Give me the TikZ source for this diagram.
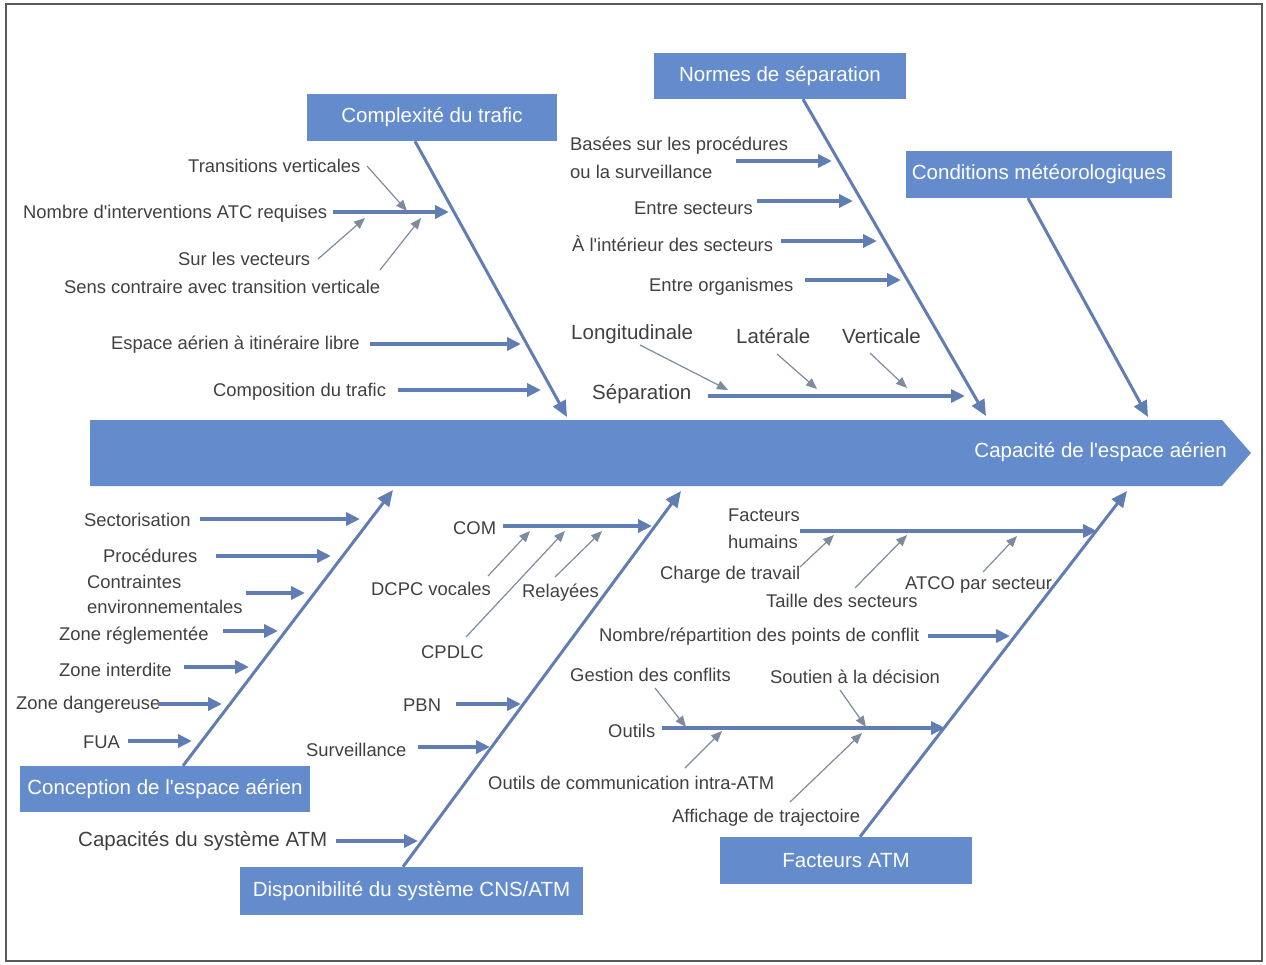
\documentclass[tikz,border=0pt]{standalone}
\usepackage{fontspec}
\setmainfont[Ligatures=TeXOff]{Liberation Sans}
\usetikzlibrary{arrows.meta}
\definecolor{boxblue}{RGB}{100,140,204}
\definecolor{bonecol}{RGB}{96,126,180}
\definecolor{thincol}{RGB}{125,138,160}
\definecolor{txt}{RGB}{64,64,64}
\definecolor{framecol}{RGB}{90,90,90}
\begin{document}
\begin{tikzpicture}[x=1pt,y=-1pt,
 box/.style={fill=boxblue, text=white, inner sep=0, font=\fontsize{20.5}{24}\selectfont},
 lbl/.style={text=txt, inner sep=0, anchor=west, align=left, yshift=-1.5pt, font=\fontsize{18.4}{21}\selectfont},
 biglbl/.style={lbl, font=\fontsize{20.5}{24}\selectfont},
 bone/.style={draw=bonecol, line width=3pt, -{Triangle[length=16pt,width=14pt]}},
 sub/.style={draw=bonecol, line width=3.5pt, -{Triangle[length=14pt,width=13pt]}},
 thinarr/.style={draw=thincol, line width=1.2pt, -{Triangle[length=11pt,width=9pt]}},
]
\useasboundingbox (0,0) rectangle (1266,964);
\draw[framecol, line width=2pt] (6,4) rectangle (1262,961);

% spine
\fill[boxblue] (90,420) -- (1222,420) -- (1251,453) -- (1222,486) -- (90,486) -- cycle;
\node[box, fill=none, anchor=east] (effect) at (1227,452) {Capacité de l'espace aérien};

% category boxes
\node[box, minimum width=250, minimum height=47] (cplx) at (432,117.5) {Complexité du trafic};
\node[box, minimum width=252, minimum height=46] (norm) at (780,76) {Normes de séparation};
\node[box, minimum width=266, minimum height=47] (cond) at (1039,174.5) {Conditions météorologiques};
\node[box, minimum width=290, minimum height=46] (concep) at (165,789) {Conception de l'espace aérien};
\node[box, minimum width=343, minimum height=48] (cns) at (411.5,891) {Disponibilité du système CNS/ATM};
\node[box, minimum width=252, minimum height=47] (fatm) at (846,860.5) {Facteurs ATM};

% bone end points
\coordinate (cplxE) at (567,417);
\coordinate (normE) at (986,416);
\coordinate (condE) at (1148,417);
\coordinate (concepE) at (393,490);
\coordinate (cnsE) at (681,491);
\coordinate (fatmE) at (1127,491);

\draw[bone] ([xshift=-17]cplx.south) -- (cplxE);
\draw[bone] ([xshift=23]norm.south) -- (normE);
\draw[bone] ([xshift=-11]cond.south) -- (condE);
\draw[bone] ([xshift=18]concep.north) -- (concepE);
\draw[bone] ([xshift=-8.5]cns.north) -- (cnsE);
\draw[bone] ([xshift=14]fatm.north) -- (fatmE);

% ---------- Complexité du trafic ----------
\node[lbl] (tv) at (188,164) {Transitions verticales};
\node[lbl] (nia) at (23,212) {Nombre d'interventions ATC requises};
\node[lbl] (slv) at (178,257) {Sur les vecteurs};
\node[lbl] (scv) at (64,285) {Sens contraire avec transition verticale};
\node[lbl] (eail) at (111,343) {Espace aérien à itinéraire libre};
\node[lbl] (cdt) at (213,390) {Composition du trafic};

\coordinate (niaS) at (333,212); \coordinate (niaE) at (449,212);
\coordinate (eailS) at (370,344); \coordinate (eailE) at (521,344);
\coordinate (cdtS) at (398,390); \coordinate (cdtE) at (541,390);
\draw[sub] (niaS) -- (niaE);
\draw[sub] (eailS) -- (eailE);
\draw[sub] (cdtS) -- (cdtE);
\coordinate (tvS) at (367,166); \coordinate (tvE) at (407,211);
\coordinate (slvS) at (318,259); \coordinate (slvE) at (365,218);
\coordinate (scvS) at (380,270); \coordinate (scvE) at (421,218);
\draw[thinarr] (tvS) -- (tvE);
\draw[thinarr] (slvS) -- (slvE);
\draw[thinarr] (scvS) -- (scvE);

% ---------- Normes de séparation ----------
\node[lbl, font=\fontsize{18.4}{28}\selectfont] (bsp) at (570,156) {Basées sur les procédures\\ou la surveillance};
\node[lbl] (es) at (634,207) {Entre secteurs};
\node[lbl] (ids) at (572,242) {À l'intérieur des secteurs};
\node[lbl] (eo) at (649,285) {Entre organismes};
\node[biglbl] (lon) at (571,333) {Longitudinale};
\node[biglbl] (lat) at (736,335) {Latérale};
\node[biglbl] (ver) at (842,335) {Verticale};
\node[biglbl] (sep) at (592,393) {Séparation};

\coordinate (bspS) at (736,161); \coordinate (bspE) at (832,161);
\coordinate (esS) at (757,201); \coordinate (esE) at (853,201);
\coordinate (idsS) at (781,241); \coordinate (idsE) at (877,241);
\coordinate (eoS) at (805,280); \coordinate (eoE) at (901,280);
\coordinate (sepS) at (708,396); \coordinate (sepE) at (965,396);
\draw[sub] (bspS) -- (bspE);
\draw[sub] (esS) -- (esE);
\draw[sub] (idsS) -- (idsE);
\draw[sub] (eoS) -- (eoE);
\draw[sub] (sepS) -- (sepE);
\coordinate (lonS) at (640,345); \coordinate (lonE) at (728,390);
\coordinate (latS) at (777,354); \coordinate (latE) at (817,389);
\coordinate (verS) at (870,353); \coordinate (verE) at (907,388);
\draw[thinarr] (lonS) -- (lonE);
\draw[thinarr] (latS) -- (latE);
\draw[thinarr] (verS) -- (verE);

% ---------- Conception de l'espace aérien ----------
\node[lbl] (sect) at (84,518) {Sectorisation};
\node[lbl] (proc) at (103,554) {Procédures};
\node[lbl, font=\fontsize{18.4}{25}\selectfont] (cenv) at (87,593) {Contraintes\\environnementales};
\node[lbl] (zr) at (59,634) {Zone réglementée};
\node[lbl] (zi) at (59,668) {Zone interdite};
\node[lbl] (zd) at (16,703) {Zone dangereuse};
\node[lbl] (fua) at (83,741) {FUA};

\coordinate (sectS) at (200,519); \coordinate (sectE) at (360,519);
\coordinate (procS) at (216,556); \coordinate (procE) at (331,556);
\coordinate (cenvS) at (246,593); \coordinate (cenvE) at (305,593);
\coordinate (zrS) at (223,631); \coordinate (zrE) at (278,631);
\coordinate (ziS) at (184,667); \coordinate (ziE) at (249,667);
\coordinate (zdS) at (158,704); \coordinate (zdE) at (222,704);
\coordinate (fuaS) at (128,741); \coordinate (fuaE) at (192,741);
\draw[sub] (sectS) -- (sectE);
\draw[sub] (procS) -- (procE);
\draw[sub] (cenvS) -- (cenvE);
\draw[sub] (zrS) -- (zrE);
\draw[sub] (ziS) -- (ziE);
\draw[sub] (zdS) -- (zdE);
\draw[sub] (fuaS) -- (fuaE);

% ---------- Disponibilité du système CNS/ATM ----------
\node[lbl] (com) at (453,527) {COM};
\node[lbl] (dcpc) at (371,587) {DCPC vocales};
\node[lbl] (rel) at (522,591) {Relayées};
\node[lbl] (cpdlc) at (421,651) {CPDLC};
\node[lbl] (pbn) at (403,704) {PBN};
\node[lbl] (surv) at (306,748) {Surveillance};
\node[biglbl] (csa) at (78,840) {Capacités du système ATM};

\coordinate (comS) at (503,526); \coordinate (comE) at (652,526);
\coordinate (pbnS) at (456,704); \coordinate (pbnE) at (521,704);
\coordinate (survS) at (418,747); \coordinate (survE) at (490,747);
\coordinate (csaS) at (336,841); \coordinate (csaE) at (418,841);
\draw[sub] (comS) -- (comE);
\draw[sub] (pbnS) -- (pbnE);
\draw[sub] (survS) -- (survE);
\draw[sub] (csaS) -- (csaE);
\coordinate (dcpcS) at (488,576); \coordinate (dcpcE) at (530,531);
\coordinate (cpdlcS) at (466,637); \coordinate (cpdlcE) at (565,531);
\coordinate (relS) at (555,577); \coordinate (relE) at (602,531);
\draw[thinarr] (dcpcS) -- (dcpcE);
\draw[thinarr] (cpdlcS) -- (cpdlcE);
\draw[thinarr] (relS) -- (relE);

% ---------- Facteurs ATM ----------
\node[lbl, font=\fontsize{18.4}{27}\selectfont] (fh) at (728,527.5) {Facteurs\\humains};
\node[lbl] (cdtr) at (660,573) {Charge de travail};
\node[lbl] (tds) at (766,599) {Taille des secteurs};
\node[lbl] (atco) at (905,583) {ATCO par secteur};
\node[lbl] (nrp) at (599,635) {Nombre/répartition des points de conflit};
\node[lbl] (gdc) at (570,673) {Gestion des conflits};
\node[lbl] (sad) at (770,675) {Soutien à la décision};
\node[lbl] (out) at (608,729) {Outils};
\node[lbl] (ocia) at (488,781) {Outils de communication intra-ATM};
\node[lbl] (adt) at (672,816) {Affichage de trajectoire};

\coordinate (fhS) at (800,531); \coordinate (fhE) at (1097,531);
\coordinate (nrpS) at (928,636); \coordinate (nrpE) at (1010,636);
\coordinate (outS) at (662,728); \coordinate (outE) at (945,728);
\draw[sub] (fhS) -- (fhE);
\draw[sub] (nrpS) -- (nrpE);
\draw[sub] (outS) -- (outE);
\coordinate (cdtrS) at (800,567); \coordinate (cdtrE) at (834,535);
\coordinate (tdsS) at (855,588); \coordinate (tdsE) at (907,535);
\coordinate (atcoS) at (983,572); \coordinate (atcoE) at (1017,536);
\coordinate (gdcS) at (655,688); \coordinate (gdcE) at (686,727);
\coordinate (sadS) at (840,690); \coordinate (sadE) at (866,727);
\coordinate (ociaS) at (685,768); \coordinate (ociaE) at (722,731);
\coordinate (adtS) at (790,802); \coordinate (adtE) at (862,733);
\draw[thinarr] (cdtrS) -- (cdtrE);
\draw[thinarr] (tdsS) -- (tdsE);
\draw[thinarr] (atcoS) -- (atcoE);
\draw[thinarr] (gdcS) -- (gdcE);
\draw[thinarr] (sadS) -- (sadE);
\draw[thinarr] (ociaS) -- (ociaE);
\draw[thinarr] (adtS) -- (adtE);
\end{tikzpicture}
\end{document}
